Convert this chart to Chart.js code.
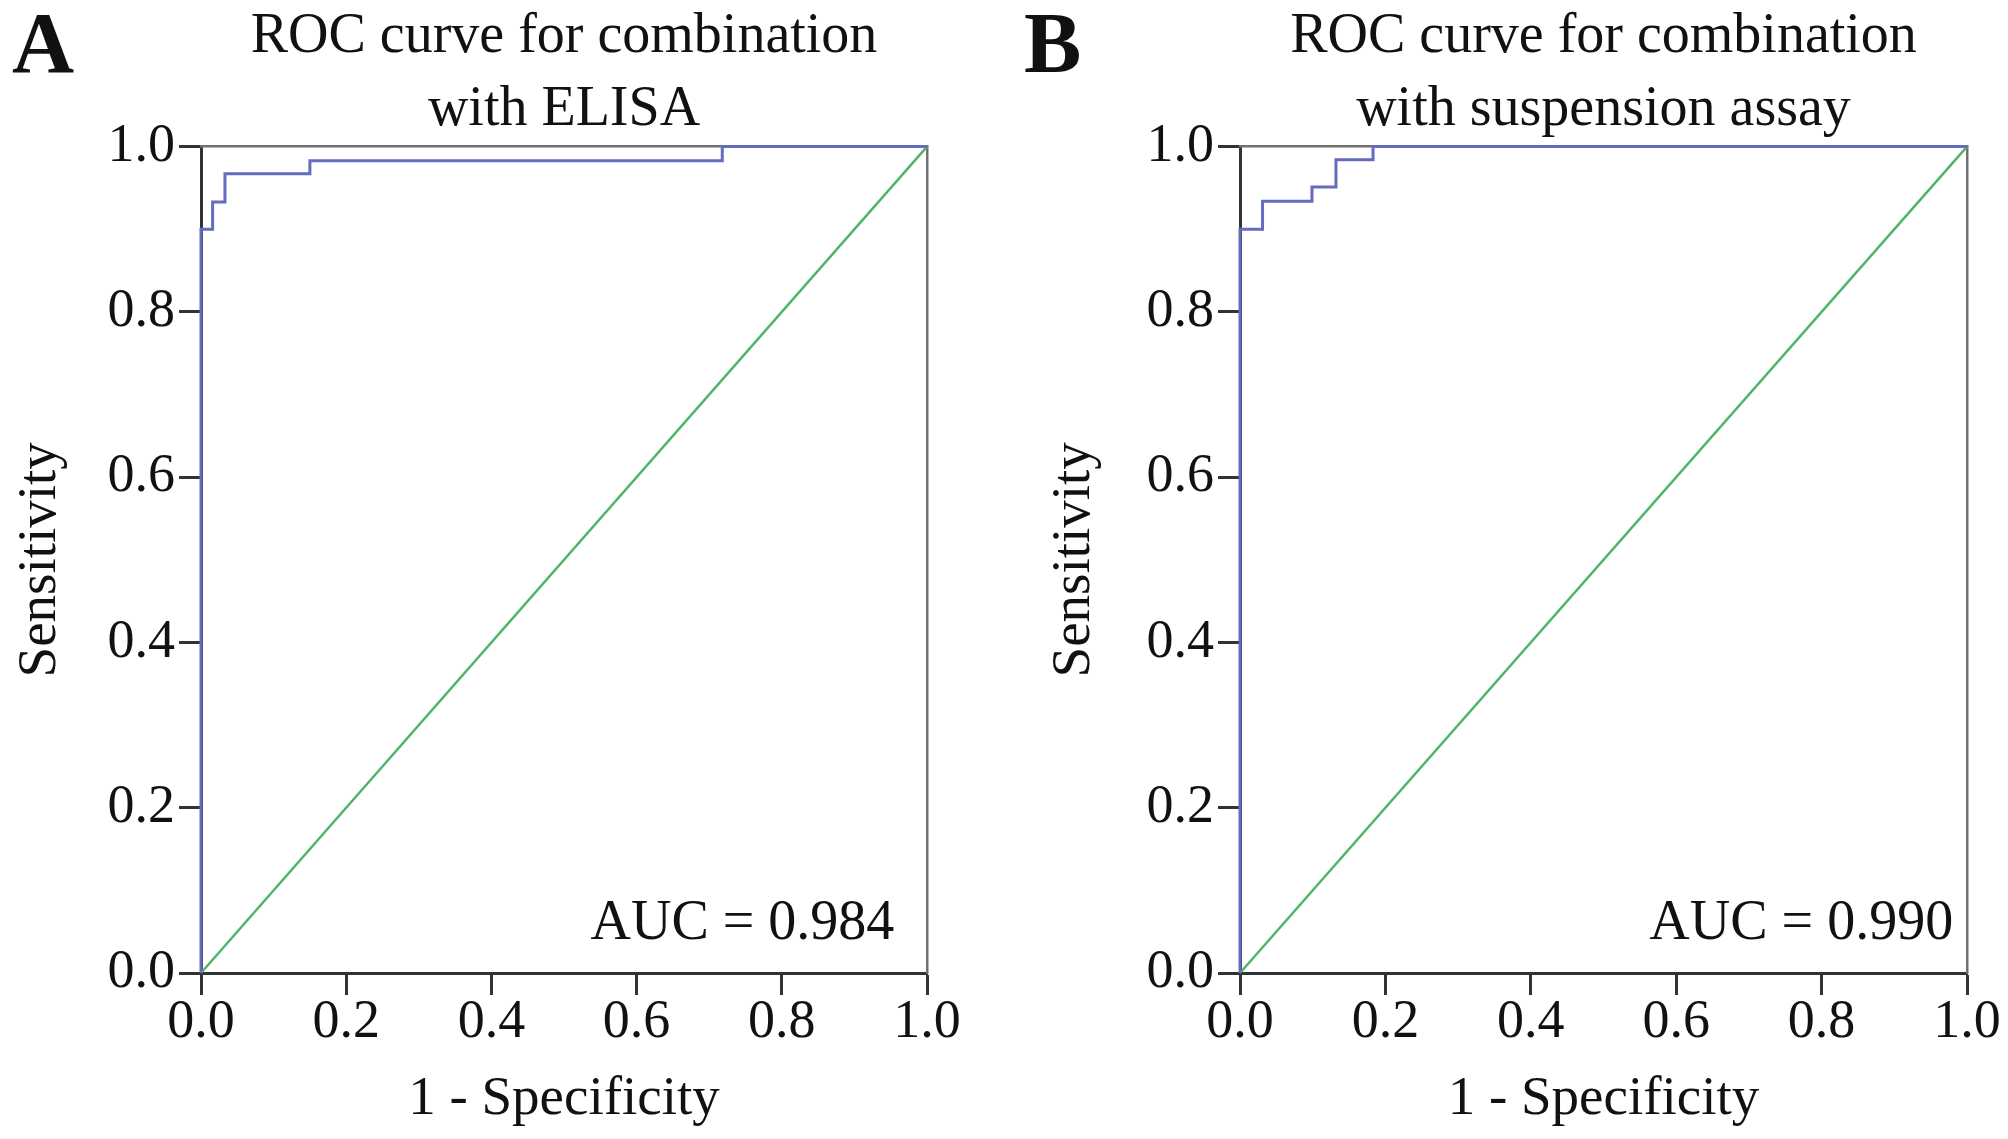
<!DOCTYPE html>
<html>
<head>
<meta charset="utf-8">
<script src="https://cdn.jsdelivr.net/npm/chart.js@4.4.1/dist/chart.umd.min.js"></script>
<style>
  body { margin: 0; background: #fff; }
  #wrap { position: relative; width: 2008px; height: 1139px; }
  canvas { position: absolute; top: 0; }
</style>
</head>
<body>
<div id="wrap">
  <canvas id="chartA" width="1004" height="1139" style="left:0"></canvas>
  <canvas id="chartB" width="1004" height="1139" style="left:1004px"></canvas>
</div>
<script>
// ROC points (1 - specificity, sensitivity)
const fprA = [0, 0, 0.016, 0.033, 0.150, 0.718, 1];
const tprA = [0, 0.900, 0.933, 0.967, 0.983, 1, 1];
const fprB = [0, 0, 0.031, 0.099, 0.132, 0.183, 1];
const tprB = [0, 0.900, 0.934, 0.951, 0.984, 1, 1];

// reference line
const refX = [0, 1];
const refY = [0, 1];

const tickLabels = ['0.0', '0.2', '0.4', '0.6', '0.8', '1.0'];
const titleA = ['ROC curve for combination', 'with ELISA'];
const titleB = ['ROC curve for combination', 'with suspension assay'];
const aucA = 'AUC = 0.984';
const aucB = 'AUC = 0.990';

const SERIF = "'Liberation Serif', 'Times New Roman', serif";
const BLUE = '#636cbf';
const GREEN = '#4fb46c';
const AXIS = '#333333';
const FRAME = '#707070';

function toPoints(xs, ys) {
    return xs.map((x, i) => ({ x: x, y: ys[i] }));
}

// Panel letter and AUC text
const panelText = {
    id: 'panelText',
    afterDraw(chart, args, opts) {
        const ctx = chart.ctx;
        const xs = chart.scales.x;
        const ys = chart.scales.y;
        ctx.save();
        ctx.fillStyle = '#111';
        ctx.textBaseline = 'alphabetic';
        ctx.font = `bold 86px ${SERIF}`;
        ctx.textAlign = 'left';
        ctx.fillText(opts.letter, opts.letterX, 72);
        ctx.font = `56px ${SERIF}`;
        ctx.textAlign = 'right';
        ctx.fillText(opts.auc, xs.getPixelForValue(opts.aucX), ys.getPixelForValue(0.041));
        ctx.restore();
    }
};

function makeChart(id, fpr, tpr, title, letter, letterX, auc, aucX, yWidth, padRight, yTitlePad) {
    return new Chart(document.getElementById(id), {
        type: 'line',
        data: {
            datasets: [
                {
                    data: toPoints(fpr, tpr),
                    borderColor: BLUE,
                    borderWidth: 3,
                    stepped: true,
                    pointRadius: 0,
                    clip: false
                },
                {
                    data: toPoints(refX, refY),
                    borderColor: GREEN,
                    borderWidth: 2.5,
                    pointRadius: 0,
                    clip: false
                }
            ]
        },
        options: {
            responsive: false,
            devicePixelRatio: 1,
            animation: false,
            layout: { padding: { left: 0, right: padRight, top: 0, bottom: 0 } },
            plugins: {
                legend: { display: false },
                tooltip: { enabled: false },
                title: {
                    display: true,
                    text: title,
                    fullSize: false,
                    color: '#111',
                    font: { family: SERIF, size: 56, weight: 'normal', lineHeight: 1.3 },
                    padding: { top: 1, bottom: 0 }
                },
                panelText: { letter: letter, letterX: letterX, auc: auc, aucX: aucX }
            },
            scales: {
                x: {
                    type: 'linear',
                    min: 0, max: 1,
                    afterFit: s => { s.height = 166; },
                    ticks: {
                        stepSize: 0.2,
                        color: '#111',
                        padding: -5,
                        maxRotation: 0,
                        font: { family: SERIF, size: 54 },
                        callback: (v, i) => tickLabels[i]
                    },
                    grid: { drawOnChartArea: false, tickLength: 22, tickColor: AXIS, tickWidth: 3 },
                    border: { color: AXIS, width: 3 },
                    title: {
                        display: true,
                        text: '1 - Specificity',
                        color: '#111',
                        font: { family: SERIF, size: 55 },
                        padding: { top: 0, bottom: 6 }
                    }
                },
                y: {
                    type: 'linear',
                    min: 0, max: 1,
                    afterFit: s => { s.width = yWidth; },
                    ticks: {
                        stepSize: 0.2,
                        color: '#111',
                        padding: 4,
                        font: { family: SERIF, size: 54 },
                        callback: (v, i) => tickLabels[i]
                    },
                    grid: { drawOnChartArea: false, tickLength: 22, tickColor: AXIS, tickWidth: 3 },
                    border: { color: AXIS, width: 3 },
                    title: {
                        display: true,
                        text: 'Sensitivity',
                        color: '#111',
                        font: { family: SERIF, size: 55 },
                        padding: { top: yTitlePad, bottom: 0 }
                    }
                },
                x2: {
                    type: 'linear', position: 'top',
                    min: 0, max: 1,
                    afterFit: s => { s.height = 0; },
                    ticks: { display: false },
                    grid: { display: false },
                    border: { color: FRAME, width: 2.5 }
                },
                y2: {
                    type: 'linear', position: 'right',
                    min: 0, max: 1,
                    afterFit: s => { s.width = 0; },
                    ticks: { display: false },
                    grid: { display: false },
                    border: { color: FRAME, width: 2.5 }
                }
            }
        },
        plugins: [panelText]
    });
}

makeChart('chartA', fprA, tprA, titleA, 'A', 12, aucA, 0.955, 201, 77, 8);
makeChart('chartB', fprB, tprB, titleB, 'B', 20, aucB, 0.981, 236, 41, 38);
</script>
</body>
</html>
